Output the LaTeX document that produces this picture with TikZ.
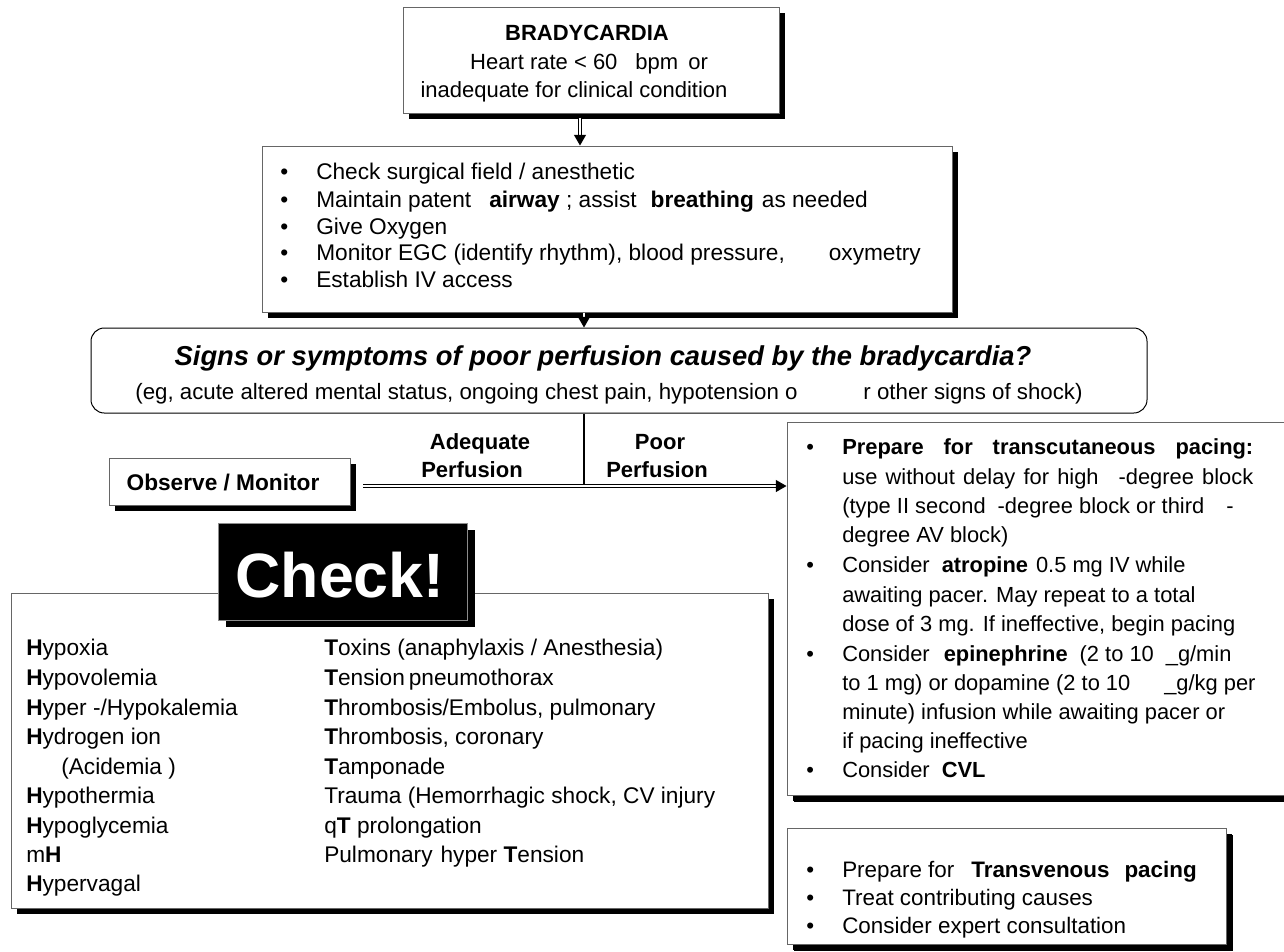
\documentclass[tikz,border=0pt]{standalone}
\usepackage{fontspec}
\setmainfont{Liberation Sans}
\usetikzlibrary{arrows.meta,shadows,fit,calc}
\newdimen\pxd \pxd=0.75pt
\begin{document}
\begin{tikzpicture}[x=0.75pt,y=-0.75pt,
  box/.style={draw=black!60, line width=0.75pt, fill=white, inner sep=0pt,
    drop shadow={shadow xshift=4.5pt, shadow yshift=-4.5pt, fill=black, opacity=1}},
  signsbox/.style={draw=black, line width=0.75pt, fill=white, inner sep=0pt, rounded corners=10pt},
  checkbox/.style={draw=black!45, line width=0.75pt, fill=black, inner sep=0pt,
    drop shadow={shadow xshift=6pt, shadow yshift=-5pt, fill=black, opacity=1}},
  txt/.style={inner sep=0pt, anchor=base west, font=\fontsize{16.4}{20}\selectfont},
  txtb/.style={txt, font=\fontsize{17}{20}\selectfont},
  txtv/.style={txt, font=\fontsize{16.8}{20}\selectfont},
  ctr/.style={inner sep=0pt, anchor=base, font=\fontsize{16.5}{20}\selectfont},
  lbl/.style={inner sep=0pt, anchor=base, font=\bfseries\fontsize{16.5}{20}\selectfont},
  dbl/.style={draw=black, double=white, double distance=2pt, line width=0.7pt,
    -{Triangle[length=8pt,width=9pt]}},
  thinline/.style={draw=black, line width=1.1pt}
]
\useasboundingbox (0,0) rectangle (1284,951);
\fill[white] (0,0) rectangle (1284,951);

% ---------- boxes ----------
\node[box, fit={(403,7) (779,113)}] (brady) {};
\node[box, fit={(262,146) (952,312)}] (checks) {};
\node[signsbox, fit={(91,328) (1147,413)}] (signs) {};
\node[box, fit={(109,458) (350,505)}] (observe) {};
\node[box, fit={(11,593) (768,908)}] (causes) {};
\node[checkbox, fit={(218,523) (467,620)}] (checkbanner) {};
\node[box, drop shadow={shadow xshift=5.25pt, shadow yshift=-5.25pt, fill=black, opacity=1}, fit={(787,422) (1300,795)}] (pacing) {};
\node[box, drop shadow={shadow xshift=5.25pt, shadow yshift=-5.25pt, fill=black, opacity=1}, fit={(787,828) (1226,944)}] (transv) {};

% ---------- connectors ----------
\coordinate (ax) at (580,0);
\coordinate (vx) at (584,0);
\coordinate (hstart) at (363,486);
\draw[dbl] (brady.south -| ax) ++(0,4) -- (checks.north -| ax);
\draw[dbl] (checks.south -| vx) -- (signs.north -| vx);
\draw[thinline] (signs.south -| vx) -- (vx |- hstart);
\draw[dbl] (hstart) -- (hstart -| pacing.west);

% ---------- BRADYCARDIA ----------
\node[ctr, font=\bfseries\fontsize{16.5}{20}\selectfont] (b1) at (587,40) {BRADYCARDIA};
\node[ctr] (b2) at (589,69) {Heart rate < 60\hspace{18\pxd}bpm\hspace{10\pxd}or};
\node[ctr] (b3) at (574,97) {inadequate for clinical condition};

% ---------- first checks ----------
\node[txtb] (c1b) at (280,179) {•};
\node[txtb] (c1) at (316,179) {Check surgical field / anesthetic};
\node[txtb] (c2b) at (280,207) {•};
\node[txtb] (c2) at (316,207) {Maintain patent\hspace{18\pxd}\textbf{airway} ; assist\hspace{14\pxd}\textbf{breathing}\hspace{8\pxd}as needed};
\node[txtb] (c3b) at (280,234) {•};
\node[txtb] (c3) at (316,234) {Give Oxygen};
\node[txtb] (c4b) at (280,260) {•};
\node[txtb] (c4) at (316,260) {Monitor EGC (identify rhythm), blood pressure,\hspace{44\pxd}oxymetry};
\node[txtb] (c5b) at (280,287) {•};
\node[txtb] (c5) at (316,287) {Establish IV access};

% ---------- signs ----------
\node[ctr, font=\bfseries\itshape\fontsize{20.5}{24}\selectfont] (s1) at (603,365) {Signs or symptoms of poor perfusion caused by the bradycardia?};
\node[ctr, font=\fontsize{16.7}{20}\selectfont] (s2) at (609,399) {(eg, acute altered mental status, ongoing chest pain, hypotension o\hspace{66\pxd}r other signs of shock)};

% ---------- branch labels ----------
\node[lbl] (ad1) at (480,449) {Adequate};
\node[lbl] (ad2) at (472,477) {Perfusion};
\node[lbl] (po1) at (660,449) {Poor};
\node[lbl] (po2) at (657,477) {Perfusion};
\node[lbl, font=\bfseries\fontsize{17}{20}\selectfont] (obs) at (223,490) {Observe / Monitor};

% ---------- Check! ----------
\node[inner sep=0pt, anchor=base, text=white, font=\bfseries\fontsize{47}{50}\selectfont] (checkword) at (340,597) {Check!};

% ---------- H and T ----------
\node[txtb] (h1) at (26,655) {\textbf{H}ypoxia};
\node[txtb] (h2) at (26,685) {\textbf{H}ypovolemia};
\node[txtb] (h3) at (26,715) {\textbf{H}yper -/Hypokalemia};
\node[txtb] (h4) at (26,744) {\textbf{H}ydrogen ion};
\node[txtb] (h5) at (61,774) {(Acidemia )};
\node[txtb] (h6) at (26,803) {\textbf{H}ypothermia};
\node[txtb] (h7) at (26,833) {\textbf{H}ypoglycemia};
\node[txtb] (h8) at (26,862) {m\textbf{H}};
\node[txtb] (h9) at (26,891) {\textbf{H}ypervagal};
\node[txtb] (t1) at (324,655) {\textbf{T}oxins (anaphylaxis / Anesthesia)};
\node[txtb] (t2) at (324,685) {\textbf{T}ension\hspace{4\pxd}pneumothorax};
\node[txtb] (t3) at (324,715) {\textbf{T}hrombosis/Embolus, pulmonary};
\node[txtb] (t4) at (324,744) {\textbf{T}hrombosis, coronary};
\node[txtb] (t5) at (324,774) {\textbf{T}amponade};
\node[txtb] (t6) at (324,803) {Trauma (Hemorrhagic shock, CV injury};
\node[txtb] (t7) at (324,833) {q\textbf{T} prolongation};
\node[txtb] (t8) at (324,862) {Pulmonary\hspace{8\pxd}hyper \textbf{T}ension};

% ---------- pacing ----------
\node[txt] (p1b) at (806,454) {•};
\node[txt] (p1) at (842,454) {\makebox[411\pxd][s]{\bfseries Prepare for transcutaneous pacing:}};
\node[txt] (p2) at (842,484) {\makebox[411\pxd][s]{use without delay for high\hspace{20\pxd}-degree block}};
\node[txt] (p3) at (842,513) {(type II second\hspace{12\pxd}-degree block or third\hspace{22\pxd}-};
\node[txt] (p4) at (842,542) {degree AV block)};
\node[txt] (p5b) at (806,572) {•};
\node[txt] (p5) at (842,572) {Consider\hspace{12\pxd}\textbf{atropine}\hspace{8\pxd}0.5 mg IV while};
\node[txt] (p6) at (842,602) {awaiting pacer. May repeat to a total};
\node[txt] (p7) at (842,631) {dose of 3 mg. If ineffective, begin pacing};
\node[txt] (p8b) at (806,661) {•};
\node[txt] (p8) at (842,661) {Consider\hspace{14\pxd}\textbf{epinephrine}\hspace{12\pxd}(2 to 10\hspace{12\pxd}\_g/min};
\node[txt] (p9) at (842,690) {to 1 mg) or dopamine (2 to 10\hspace{34\pxd}\_g/kg per};
\node[txt] (p10) at (842,719) {minute) infusion while awaiting pacer or};
\node[txt] (p11) at (842,748) {if pacing ineffective};
\node[txt] (p12b) at (806,777) {•};
\node[txt] (p12) at (842,777) {Consider\hspace{12\pxd}\textbf{CVL}};

% ---------- transvenous ----------
\node[txtv] (v1b) at (806,877) {•};
\node[txtv] (v1) at (842,877) {Prepare for\hspace{17\pxd}\textbf{Transvenous\hspace{15\pxd}pacing}};
\node[txtv] (v2b) at (806,905) {•};
\node[txtv] (v2) at (842,905) {Treat contributing causes};
\node[txtv] (v3b) at (806,933) {•};
\node[txtv] (v3) at (842,933) {Consider expert consultation};
\end{tikzpicture}
\end{document}
